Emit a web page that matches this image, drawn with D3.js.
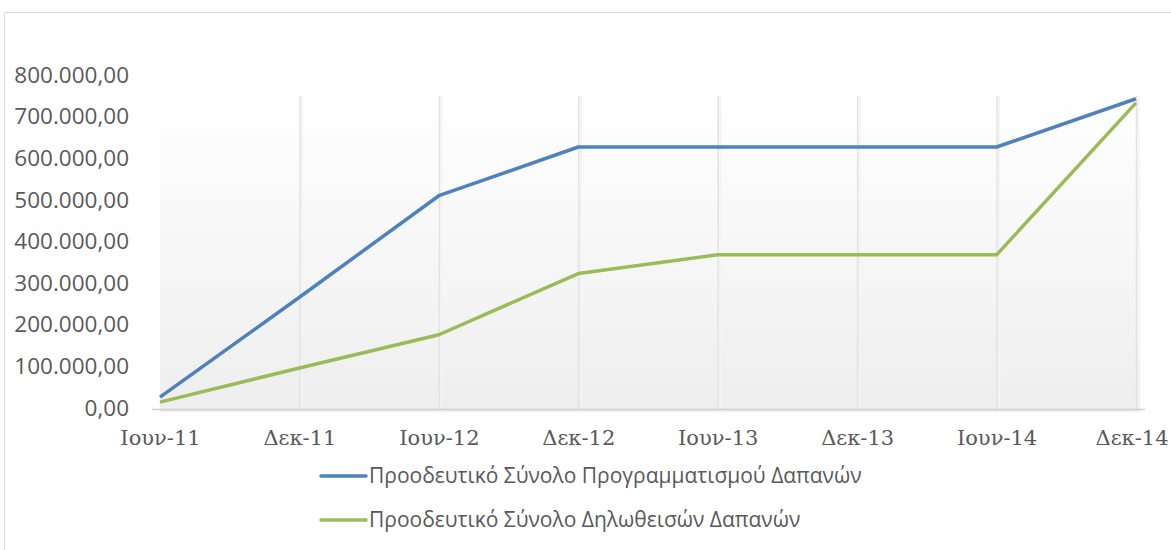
<html>
<head>
<meta charset="utf-8">
<script src="https://d3js.org/d3.v7.min.js"></script>
<style>
  body { margin: 0; background: #fff; }
</style>
</head>
<body>
<svg id="chart" width="1171" height="550"></svg>
<script>

// categories along the x axis (half-year periods)
var periods = ["Ιουν-11", "Δεκ-11", "Ιουν-12", "Δεκ-12", "Ιουν-13", "Δεκ-13", "Ιουν-14", "Δεκ-14"];

// cumulative totals
var planned  = [26000, 266000, 510000, 627000, 627000, 627000, 627000, 743000];
var declared = [14000, 96000, 176000, 323000, 368000, 368000, 368000, 733000];

var seriesNames = ["Προοδευτικό Σύνολο Προγραμματισμού Δαπανών", "Προοδευτικό Σύνολο Δηλωθεισών Δαπανών"];
var seriesColors = ["#4f81bd", "#9bbb59"];

var yTicks = [0, 100000, 200000, 300000, 400000, 500000, 600000, 700000, 800000];

var svg = d3.select("#chart");

// outer chart frame
svg.append("rect")
  .attr("x", 4.5).attr("y", 12.5)
  .attr("width", 1180).attr("height", 560)
  .attr("fill", "#fff")
  .attr("stroke", "#d9d9d9");

var x = d3.scalePoint()
  .domain(periods)
  .range([160, 1136]);

var y = d3.scaleLinear()
  .domain([0, 800000])
  .range([408, 75]);

// plot background: white at top fading to light gray
var defs = svg.append("defs");
var grad = defs.append("linearGradient")
  .attr("id", "bg").attr("x1", 0).attr("y1", 0).attr("x2", 0).attr("y2", 1);
grad.append("stop").attr("offset", "0%").attr("stop-color", "#ffffff");
grad.append("stop").attr("offset", "100%").attr("stop-color", "#eeeeee");

svg.append("rect")
  .attr("x", x.range()[0]).attr("y", y(750000))
  .attr("width", x.range()[1] - x.range()[0] + 4)
  .attr("height", y(0) - y(750000) + 4)
  .attr("fill", "url(#bg)");

// vertical gridlines with a faint shadow
svg.append("g").selectAll("line.shadow")
  .data(periods.slice(1))
  .enter().append("line")
  .attr("x1", function(d) { return x(d) + 2.5; })
  .attr("x2", function(d) { return x(d) + 2.5; })
  .attr("y1", y(750000)).attr("y2", y(0) + 3)
  .attr("stroke", "#f4f4f4").attr("stroke-width", 2);

svg.append("g").selectAll("line.grid")
  .data(periods.slice(1))
  .enter().append("line")
  .attr("x1", function(d) { return x(d) + 0.5; })
  .attr("x2", function(d) { return x(d) + 0.5; })
  .attr("y1", y(750000)).attr("y2", y(0) + 3)
  .attr("stroke", "#e3e3e3").attr("stroke-width", 1.5);

// baseline
svg.append("line")
  .attr("x1", 152).attr("x2", 1145)
  .attr("y1", y(0) + 1.5).attr("y2", y(0) + 1.5)
  .attr("stroke", "#d0d0d0").attr("stroke-width", 1.5);

// y axis labels
var fmt = function(v) {
  var s = d3.format(",.2f")(v);
  return s.replace(/,/g, "#").replace(/\./g, ",").replace(/#/g, ".");
};

var yAxis = d3.axisLeft(y)
  .tickValues(yTicks)
  .tickFormat(fmt)
  .tickSize(0)
  .tickPadding(0);

svg.append("g")
  .attr("transform", "translate(129,0)")
  .call(yAxis)
  .call(function(g) { g.select(".domain").remove(); })
  .selectAll("text")
  .attr("font-family", "'Open Sans', sans-serif")
  .attr("font-size", 22.5)
  .attr("fill", "#595959");

// x axis labels
var xAxis = d3.axisBottom(x).tickSize(0).tickPadding(0);

var xg = svg.append("g")
  .attr("transform", "translate(0," + (y(0) + 22) + ")")
  .call(xAxis)
  .call(function(g) { g.select(".domain").remove(); });

xg.selectAll("text")
  .attr("font-family", "'DejaVu Serif', serif")
  .attr("font-size", 21)
  .attr("fill", "#595959");

// last label is pulled in so it stays inside the frame
xg.selectAll(".tick").filter(function(d) { return d === periods[periods.length - 1]; })
  .select("text")
  .attr("text-anchor", "end")
  .attr("x", 32);

// lines
var line = d3.line()
  .x(function(d, i) { return x(periods[i]); })
  .y(function(d) { return y(d); });

[planned, declared].forEach(function(vals, i) {
  svg.append("path")
    .datum(vals)
    .attr("d", line)
    .attr("fill", "none")
    .attr("stroke", seriesColors[i])
    .attr("stroke-width", 3.5)
    .attr("stroke-linejoin", "round");
});

// legend
var legend = svg.append("g");
seriesNames.forEach(function(name, i) {
  var ly = 476 + i * 44;
  legend.append("line")
    .attr("x1", 321).attr("x2", 366)
    .attr("y1", ly).attr("y2", ly)
    .attr("stroke", seriesColors[i])
    .attr("stroke-width", 3.5)
    .attr("stroke-linecap", "round");
  legend.append("text")
    .attr("x", 369).attr("y", ly + 7)
    .attr("font-family", "'Open Sans', sans-serif")
    .attr("font-size", 21)
    .attr("fill", "#595959")
    .text(name);
});

</script>
</body>
</html>
